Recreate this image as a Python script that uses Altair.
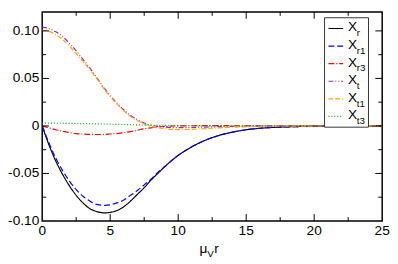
import altair as alt
import pandas as pd

# ---- data ----
x_r = [0, 0.5, 1, 1.5, 2, 2.5, 3, 3.5, 4, 4.6, 5, 5.5, 6, 6.5, 7, 7.5, 8, 8.5, 9, 10, 11, 12, 13, 14, 15, 16, 17, 18, 20, 22, 25]
X_r = [0, -0.020, -0.037, -0.051, -0.063, -0.073, -0.081, -0.087, -0.090, -0.0915, -0.091, -0.089, -0.085, -0.079, -0.072, -0.065, -0.057, -0.050, -0.043, -0.031, -0.022, -0.015, -0.010, -0.0065, -0.004, -0.0025, -0.0015, -0.001, -0.0003, -0.0001, 0]
X_r1 = [0, -0.018, -0.034, -0.047, -0.058, -0.067, -0.074, -0.079, -0.0825, -0.0835, -0.083, -0.081, -0.078, -0.073, -0.068, -0.062, -0.056, -0.049, -0.043, -0.031, -0.022, -0.015, -0.010, -0.0065, -0.004, -0.0025, -0.0015, -0.001, -0.0003, -0.0001, 0]
X_r3 = [0, -0.002, -0.004, -0.0055, -0.007, -0.008, -0.0085, -0.0089, -0.009, -0.0089, -0.0085, -0.008, -0.007, -0.006, -0.0045, -0.003, -0.002, -0.001, -0.0005, 0, 0.0002, 0.0003, 0.0003, 0.0002, 0.0002, 0.0001, 0.0001, 0.0001, 0, 0, 0]

x_t = [0, 0.5, 1, 1.5, 2, 2.5, 3, 3.5, 4, 4.5, 5, 5.5, 6, 6.5, 7, 7.5, 8, 8.5, 9, 10, 11, 12, 13, 15, 18, 25]
X_t = [0.104, 0.1025, 0.099, 0.094, 0.087, 0.079, 0.070, 0.061, 0.051, 0.041, 0.032, 0.024, 0.017, 0.011, 0.0065, 0.003, 0.0008, -0.0005, -0.0012, -0.0018, -0.0016, -0.0012, -0.0008, -0.0003, -0.0001, 0]
X_t1 = [0.101, 0.0995, 0.096, 0.091, 0.084, 0.076, 0.068, 0.059, 0.050, 0.040, 0.031, 0.023, 0.016, 0.010, 0.0055, 0.002, -0.0005, -0.002, -0.003, -0.0038, -0.0035, -0.0028, -0.002, -0.0008, -0.0002, 0]
x_t3 = [0, 2, 4, 6, 8, 10, 12, 15, 25]
X_t3 = [0.003, 0.0027, 0.0022, 0.0015, 0.0008, 0.0003, 0.0001, 0, 0]

series_names = ["Xr", "Xr1", "Xr3", "Xt", "Xt1", "Xt3"]
series_main = ["X", "X", "X", "X", "X", "X"]
series_sub = ["r", "r1", "r3", "t", "t1", "t3"]
colors = ["#000000", "#0000ff", "#ff0000", "#9028e0", "#ffa500", "#00b000"]
dashes = [[1, 0], [6, 3], [6, 2, 1, 2], [5, 2, 1, 2, 1, 2], [5, 2, 5, 2, 1, 2], [1, 2]]

x_major = [0, 5, 10, 15, 20, 25]
x_minor = [2.5, 7.5, 12.5, 17.5, 22.5]
y_major = [-0.10, -0.05, 0.0, 0.05, 0.10]
y_minor = [-0.075, -0.025, 0.025, 0.075]
y_labels = ["-0.10", "-0.05", "0", "0.05", "0.10"]

W, H = 348, 214
FONT = "Liberation Sans"

xs = alt.Scale(domain=[0, 25], nice=False, zero=False)
ys = alt.Scale(domain=[-0.10, 0.12], nice=False, zero=False)

xdata = [x_r, x_r, x_r, x_t, x_t, x_t3]
ydata = [X_r, X_r1, X_r3, X_t, X_t1, X_t3]

layers = []
for i, name in enumerate(series_names):
    df = pd.DataFrame({"x": xdata[i], "y": ydata[i]})
    enc = dict(
        x=alt.X("x:Q", scale=xs, axis=None),
        y=alt.Y("y:Q", scale=ys, axis=None),
    )
    layers.append(
        alt.Chart(df).mark_line(
            color=colors[i], strokeDash=dashes[i], strokeWidth=1.2, interpolate="monotone", clip=True
        ).encode(**enc)
    )

# axes with labels only
lab_df = pd.DataFrame({"v": y_major, "lab": y_labels})
ylab = alt.Chart(lab_df).mark_text(align="right", baseline="middle", font=FONT, fontSize=14, dx=-3).encode(
    x=alt.value(0), y=alt.Y("v:Q", scale=ys, axis=None), text="lab:N"
)
xl_df = pd.DataFrame({"v": x_major, "lab": [str(v) for v in x_major]})
xlab = alt.Chart(xl_df).mark_text(align="center", baseline="top", font=FONT, fontSize=14, dy=3).encode(
    x=alt.X("v:Q", scale=xs, axis=None), y=alt.value(H), text="lab:N"
)

# inward ticks
def vticks(vals, length):
    df = pd.DataFrame({"v": vals})
    b = alt.Chart(df).mark_rule(color="black", strokeWidth=1)
    return [
        b.encode(x=alt.X("v:Q", scale=xs, axis=None), y=alt.value(H - length), y2=alt.value(H)),
        b.encode(x=alt.X("v:Q", scale=xs, axis=None), y=alt.value(0), y2=alt.value(length)),
    ]

def hticks(vals, length):
    df = pd.DataFrame({"v": vals})
    b = alt.Chart(df).mark_rule(color="black", strokeWidth=1)
    return [
        b.encode(y=alt.Y("v:Q", scale=ys, axis=None), x=alt.value(0), x2=alt.value(length)),
        b.encode(y=alt.Y("v:Q", scale=ys, axis=None), x=alt.value(W - length), x2=alt.value(W)),
    ]

ticks = vticks(x_major[1:-1], 7) + vticks(x_minor, 4) + hticks(y_major[1:], 7) + hticks(y_minor, 4)

# x title: mu_V r
title = [
    alt.Chart(pd.DataFrame({"t": ["μ"]})).mark_text(font=FONT, fontSize=14, align="left", baseline="alphabetic").encode(
        x=alt.value(161), y=alt.value(H + 33), text="t:N"),
    alt.Chart(pd.DataFrame({"t": ["V"]})).mark_text(font=FONT, fontSize=10, align="left", baseline="alphabetic").encode(
        x=alt.value(169), y=alt.value(H + 37), text="t:N"),
    alt.Chart(pd.DataFrame({"t": ["r"]})).mark_text(font=FONT, fontSize=14, align="left", baseline="alphabetic").encode(
        x=alt.value(176), y=alt.value(H + 33), text="t:N"),
]

# legend
LX0, LX1, LY0, LY1 = 289, 334, 6, 118
box = alt.Chart(pd.DataFrame({"a": [0]})).mark_rect(fill="white", stroke="#333333", strokeWidth=1).encode(
    x=alt.value(LX0), x2=alt.value(LX1), y=alt.value(LY0), y2=alt.value(LY1))
leg = [box]
row_y = [17, 35, 53, 71, 89, 107]
for i in range(6):
    one = pd.DataFrame({"m": [series_main[i]], "s": [series_sub[i]]})
    leg.append(alt.Chart(one).mark_rule(color=colors[i], strokeDash=dashes[i], strokeWidth=1.2).encode(
        x=alt.value(LX0 + 4), x2=alt.value(LX0 + 19), y=alt.value(row_y[i])))
    leg.append(alt.Chart(one).mark_text(font=FONT, fontSize=14, align="left", baseline="middle").encode(
        x=alt.value(LX0 + 24), y=alt.value(row_y[i] - 1), text="m:N"))
    leg.append(alt.Chart(one).mark_text(font=FONT, fontSize=10, align="left", baseline="middle").encode(
        x=alt.value(LX0 + 33), y=alt.value(row_y[i] + 5), text="s:N"))

chart = alt.layer(*layers, *ticks, ylab, xlab, *title, *leg).properties(
    width=W, height=H, padding={"left": 0, "top": 0, "right": 0, "bottom": 0}
).configure_view(stroke="black", strokeWidth=1.5)

chart.save("out.html", embed_options={"renderer": "svg", "actions": False})
